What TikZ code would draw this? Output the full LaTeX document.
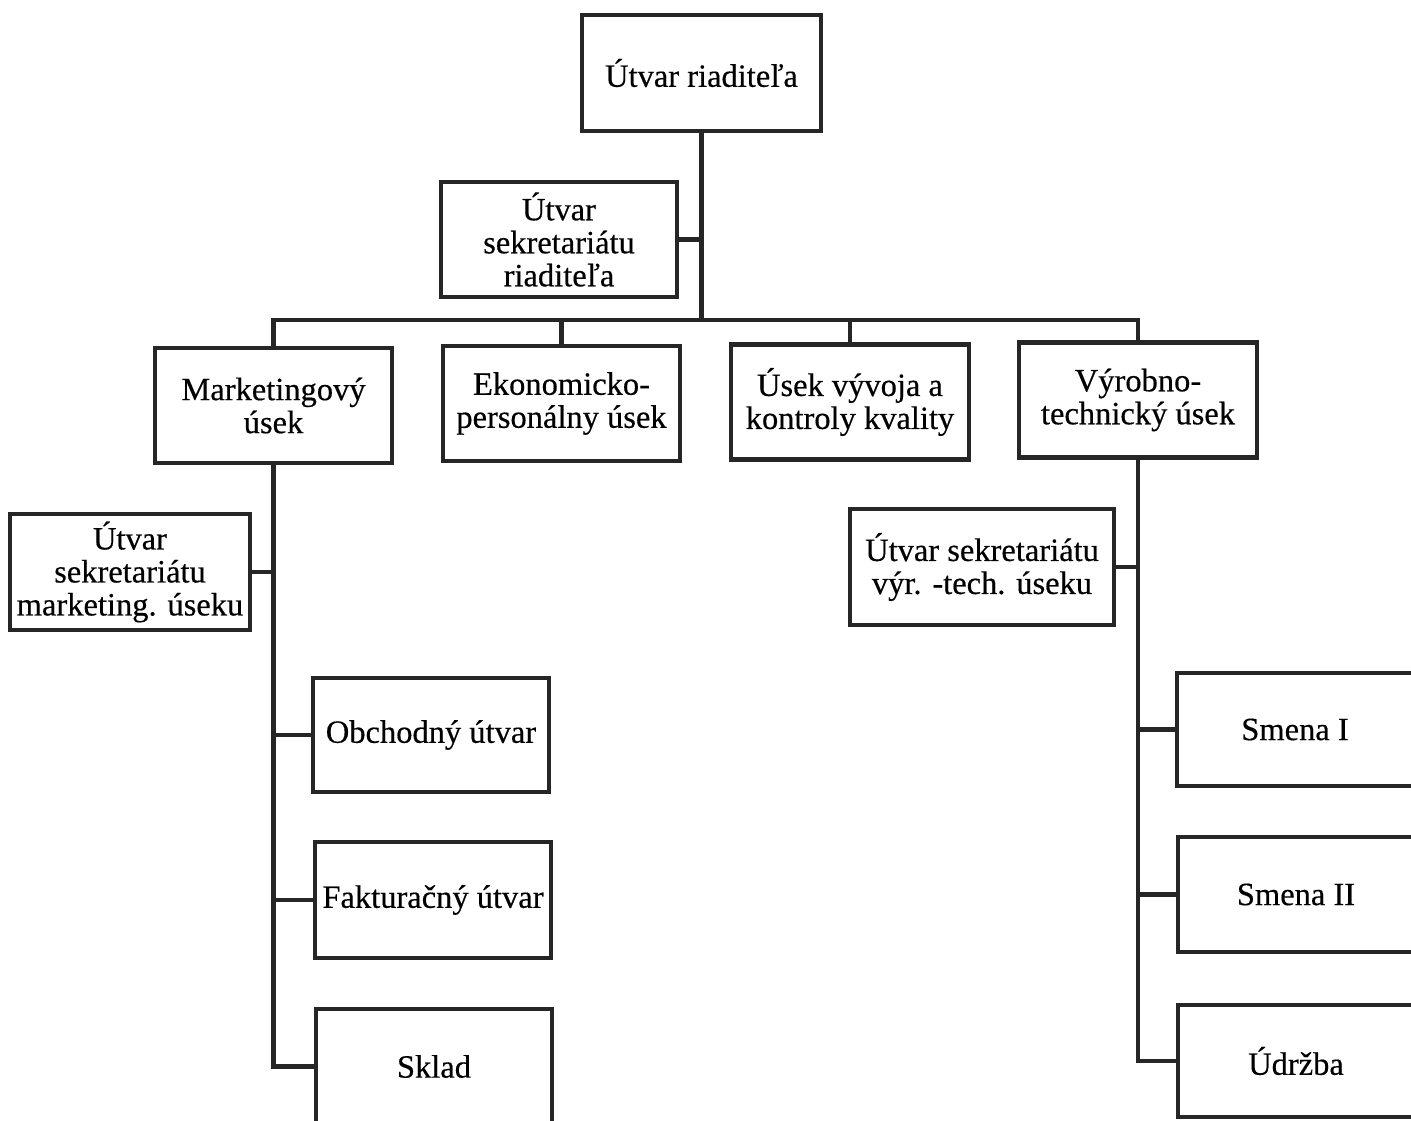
\documentclass[tikz,border=0pt]{standalone}
\usepackage{fontspec}
\setmainfont[FakeBold=0.4]{Liberation Serif}
\begin{document}
\begin{tikzpicture}[x=1pt,y=-1pt,
  box/.style={draw=black!85,line width=4.5pt,inner sep=0pt,align=center,
    minimum height=115pt,font=\fontsize{32.5}{33}\selectfont},
  conn/.style={draw=black!85,line width=4.5pt,line cap=rect}]
\useasboundingbox (0,0) rectangle (1411,1121);
\clip (0,0) rectangle (1411,1121);
\fill[white] (0,0) rectangle (1411,1121);
% nodes
\node[box,minimum width=239pt,minimum height=116pt] (dir) at (701.5,73) {Útvar riaditeľa};
\node[box,minimum width=236pt] (sec) at (559,239.5) {Útvar\\sekretariátu\\riaditeľa};
\node[box,minimum width=237pt] (mkt) at (273.5,405.5) {Marketingový\\úsek};
\node[box,minimum width=237pt] (eko) at (561.5,403.5) {Ekonomicko-\\personálny úsek};
\node[box,minimum width=238pt] (vyv) at (850,402) {Úsek vývoja a\\kontroly kvality};
\node[box,minimum width=238pt] (vyr) at (1138,400) {Výrobno-\\technický úsek};
\node[box,minimum width=240pt,minimum height=116pt] (msec) at (130,572) {Útvar\\sekretariátu\\marketing. úseku};
\node[box,minimum width=236pt,minimum height=114pt] (obch) at (431,735) {Obchodný útvar};
\node[box,minimum width=236pt,minimum height=116pt] (fakt) at (433,900) {Fakturačný útvar};
\node[box,minimum width=236pt] (skl) at (434,1066.5) {Sklad};
\node[box,minimum width=264pt,minimum height=116pt] (vsec) at (982,567) {Útvar sekretariátu\\výr. -tech. úseku};
\node[box,minimum width=236pt,minimum height=113pt] (sm1) at (1295,729.5) {Smena I};
\node[box,minimum width=236pt] (sm2) at (1296,894.5) {Smena II};
\node[box,minimum width=236pt,minimum height=112pt] (udr) at (1296,1061) {Údržba};
\coordinate (bus) at (703,320);
% connectors
\draw[conn] (dir.south) -- (dir.south |- bus);
\draw[conn] (sec.east) -- (sec.east -| dir.south);
\draw[conn] (mkt.north |- bus) -- (vyr.north |- bus);
\draw[conn] (mkt.north) -- (mkt.north |- bus);
\draw[conn] (eko.north) -- (eko.north |- bus);
\draw[conn] (vyv.north) -- (vyv.north |- bus);
\draw[conn] (vyr.north) -- (vyr.north |- bus);
\draw[conn] (mkt.south) |- (skl.west);
\draw[conn] (msec.east) -- (msec.east -| mkt.south);
\draw[conn] (obch.west) -- (obch.west -| mkt.south);
\draw[conn] (fakt.west) -- (fakt.west -| mkt.south);
\draw[conn] (vyr.south) |- (udr.west);
\draw[conn] (vsec.east) -- (vsec.east -| vyr.south);
\draw[conn] (sm1.west) -- (sm1.west -| vyr.south);
\draw[conn] (sm2.west) -- (sm2.west -| vyr.south);
\end{tikzpicture}
\end{document}
